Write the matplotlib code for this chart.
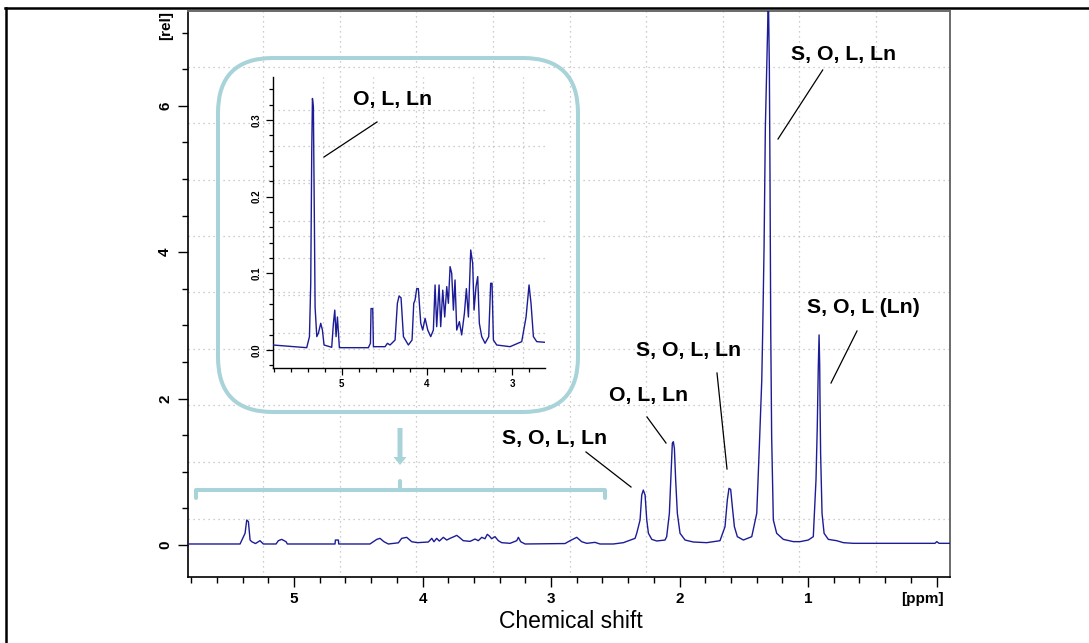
import matplotlib
matplotlib.use('Agg')
import matplotlib.pyplot as plt
from matplotlib.patches import FancyBboxPatch, FancyArrow
from matplotlib.lines import Line2D
from matplotlib.transforms import IdentityTransform
from matplotlib.ticker import MultipleLocator, FixedLocator

plt.rcParams['font.family'] = ['Liberation Sans', 'DejaVu Sans']

# ---------------- data ----------------
main_ppm = [5.83, 5.42, 5.381, 5.368, 5.355, 5.342, 5.329, 5.30, 5.265, 5.239, 5.14, 5.122, 5.096,
            5.062, 5.052, 4.681, 4.678, 4.655, 4.652, 4.409, 4.356, 4.331, 4.300, 4.266, 4.188,
            4.162, 4.123, 4.084, 4.040, 3.955, 3.928, 3.911, 3.890, 3.869, 3.838, 3.812, 3.781,
            3.755, 3.734, 3.714, 3.683, 3.630, 3.591, 3.566, 3.539, 3.514, 3.496, 3.480, 3.462,
            3.436, 3.410, 3.384, 3.319, 3.267, 3.254, 3.236, 3.202, 2.891, 2.852, 2.800, 2.761,
            2.722, 2.658, 2.619, 2.515, 2.437, 2.346, 2.333, 2.307, 2.294, 2.282, 2.268, 2.255,
            2.242, 2.216, 2.177, 2.113, 2.100, 2.079, 2.066, 2.056, 2.048, 2.040, 2.030, 2.017,
            1.996, 1.957, 1.893, 1.788, 1.685, 1.646, 1.628, 1.615, 1.602, 1.589, 1.573, 1.550,
            1.503, 1.438, 1.399, 1.379, 1.360, 1.353, 1.342, 1.332, 1.321, 1.314, 1.309, 1.301,
            1.296, 1.290, 1.283, 1.270, 1.244, 1.192, 1.114, 1.062, 0.998, 0.959, 0.938, 0.928,
            0.920, 0.914, 0.909, 0.907, 0.902, 0.891, 0.875, 0.842, 0.777, 0.725, 0.647, 0.012,
            -0.002, -0.02, -0.101]
main_rel = [0.014, 0.014, 0.16, 0.342, 0.319, 0.068, 0.045, 0.02, 0.059, 0.014, 0.014, 0.059, 0.077,
            0.045, 0.014, 0.014, 0.068, 0.068, 0.014, 0.014, 0.077, 0.091, 0.045, 0.014, 0.03,
            0.091, 0.105, 0.045, 0.032, 0.041, 0.091, 0.045, 0.091, 0.054, 0.105, 0.068, 0.095,
            0.114, 0.132, 0.105, 0.059, 0.050, 0.082, 0.059, 0.105, 0.086, 0.146, 0.123, 0.086,
            0.114, 0.059, 0.032, 0.023, 0.059, 0.105, 0.045, 0.014, 0.020, 0.059, 0.105, 0.045,
            0.023, 0.036, 0.014, 0.014, 0.032, 0.091, 0.16, 0.342, 0.683, 0.751, 0.683, 0.342,
            0.16, 0.077, 0.055, 0.068, 0.114, 0.433, 0.98, 1.389, 1.411, 1.32, 0.888, 0.433,
            0.16, 0.068, 0.041, 0.032, 0.059, 0.25, 0.615, 0.774, 0.76, 0.524, 0.25, 0.114,
            0.068, 0.114, 0.433, 1.34, 2.25, 2.89, 4.08, 5.71, 6.53, 7.08, 7.6, 6.53,
            5.08, 2.89, 1.48, 0.342, 0.16, 0.077, 0.046, 0.046, 0.068, 0.114, 0.888, 1.617,
            2.44, 2.87, 2.44, 2.03, 1.25, 0.433, 0.16, 0.077, 0.059, 0.032, 0.023, 0.023,
            0.046, 0.023, 0.023]

inset_ppm = [5.809, 5.411, 5.379, 5.364, 5.352, 5.344, 5.333, 5.321, 5.313, 5.293, 5.274, 5.247,
             5.227, 5.208, 5.118, 5.098, 5.082, 5.067, 5.051, 5.028, 4.688, 4.664, 4.657, 4.637,
             4.629, 4.492, 4.465, 4.434, 4.375, 4.348, 4.328, 4.305, 4.277, 4.219, 4.176, 4.156,
             4.141, 4.121, 4.102, 4.074, 4.051, 4.023, 3.992, 3.957, 3.926, 3.906, 3.887, 3.859,
             3.840, 3.816, 3.793, 3.769, 3.750, 3.730, 3.711, 3.691, 3.672, 3.652, 3.621, 3.594,
             3.562, 3.539, 3.515, 3.488, 3.465, 3.449, 3.426, 3.406, 3.387, 3.359, 3.320, 3.277,
             3.254, 3.238, 3.222, 3.183, 3.027, 2.890, 2.839, 2.804, 2.781, 2.753, 2.714, 2.617]
inset_int = [0.0065, 0.003, 0.0174, 0.087, 0.261, 0.328, 0.317, 0.165, 0.056, 0.0174, 0.022, 0.0348,
             0.026, 0.0065, 0.0035, 0.0348, 0.052, 0.0174, 0.043, 0.003, 0.003, 0.0087, 0.054, 0.054,
             0.0043, 0.0043, 0.0087, 0.0065, 0.013, 0.0609, 0.0704, 0.068, 0.0174, 0.0065, 0.013, 0.0609,
             0.065, 0.080, 0.080, 0.035, 0.026, 0.0413, 0.026, 0.0174, 0.026, 0.0848, 0.0304, 0.0848,
             0.0304, 0.078, 0.043, 0.0826, 0.0609, 0.1087, 0.100, 0.052, 0.0913, 0.026, 0.037, 0.0196,
             0.0478, 0.080, 0.043, 0.1304, 0.113, 0.052, 0.0826, 0.0957, 0.0348, 0.0174, 0.0087, 0.0174,
             0.087, 0.087, 0.013, 0.0065, 0.0043, 0.0109, 0.043, 0.0848, 0.0609, 0.0174, 0.0109, 0.010]

main_xticks = [5, 4, 3, 2, 1, 0]
main_xticklabels = ['5', '4', '3', '2', '1', '']
main_yticks = [0, 2, 4, 6]
main_yticklabels = ['0', '2', '4', '6']
inset_xticks = [5, 4, 3]
inset_xticklabels = ['5', '4', '3']
inset_yticks = [0.0, 0.1, 0.2, 0.3]
inset_yticklabels = ['0.0', '0.1', '0.2', '0.3']

peak_labels_main = ['S, O, L, Ln', 'S, O, L (Ln)', 'S, O, L, Ln', 'O, L, Ln', 'S, O, L, Ln']
peak_label_inset = 'O, L, Ln'

# ---------------- style ----------------
W, H = 1089, 643
LINE = '#1c1c96'
TEAL = '#a8d4d9'
GRID = '#bdbdbd'

def fx(x):
    return x / W

def fy(y):
    return 1 - y / H

fig = plt.figure(figsize=(W / 100, H / 100), dpi=100)
fig.patch.set_facecolor('white')

# main axes
ax = fig.add_axes([fx(187.5), fy(577), (949.5 - 187.5) / W, (577 - 11) / H])
ax.set_xlim(5.829, -0.101)
ax.set_ylim(-0.437, 7.295)
ax.plot(main_ppm, main_rel, color=LINE, lw=1.0, zorder=3, clip_on=True)

main_vgrid = [5.241, 4.645, 4.047, 3.451, 2.856, 2.260, 1.665, 1.069, 0.473]
main_hgrid = [6.53, 5.77, 4.99, 4.22, 3.45, 2.68, 1.91, 1.13, 0.355]
for g in main_vgrid:
    ax.axvline(g, color=GRID, lw=0.9, ls=(0, (1, 3)), zorder=0)
for g in main_hgrid:
    ax.axhline(g, color=GRID, lw=0.9, ls=(0, (1, 3)), zorder=0)

ax.xaxis.set_major_locator(FixedLocator(main_xticks))
ax.set_xticklabels(main_xticklabels)
ax.xaxis.set_minor_locator(MultipleLocator(0.2))
ax.yaxis.set_major_locator(FixedLocator(main_yticks))
ax.set_yticklabels(main_yticklabels)
ax.yaxis.set_minor_locator(MultipleLocator(0.5))
ax.tick_params(which='major', direction='out', length=7, width=1.0, labelsize=11, pad=4)
ax.tick_params(which='minor', direction='out', length=4, width=1.0)
ax.tick_params(axis='y', labelrotation=90)
for lab in ax.get_xticklabels() + ax.get_yticklabels():
    lab.set_fontweight('bold')
for lab in ax.get_yticklabels():
    lab.set_verticalalignment('center')
for s in ['left', 'bottom']:
    ax.spines[s].set_color('black')
    ax.spines[s].set_linewidth(1.2)
for s in ['top', 'right']:
    ax.spines[s].set_color('#6a6a6a')
    ax.spines[s].set_linewidth(1.4)

# rounded inset frame
box = FancyBboxPatch((218, H - 412), 578 - 218, 412 - 58,
                     boxstyle='round,pad=0,rounding_size=55',
                     transform=IdentityTransform(), fill=False,
                     edgecolor=TEAL, lw=2.9, zorder=5)
fig.patches.append(box)

# inset axes
ai = fig.add_axes([fx(272.7), fy(368), (545 - 272.7) / W, (368 - 77) / H])
ai.patch.set_alpha(0)
ai.set_xlim(5.81, 2.617)
ai.set_ylim(-0.0235, 0.356)
ai.plot(inset_ppm, inset_int, color=LINE, lw=1.0, zorder=3)
inset_vgrid = [5.219, 4.633, 4.047, 3.461, 2.875]
inset_hgrid = [0.313, 0.266, 0.218, 0.168, 0.120, 0.072, 0.022]
for g in inset_vgrid:
    ai.axvline(g, color=GRID, lw=0.9, ls=(0, (1, 3)), zorder=0)
for g in inset_hgrid:
    ai.axhline(g, color=GRID, lw=0.9, ls=(0, (1, 3)), zorder=0)
for s in ['top', 'right']:
    ai.spines[s].set_visible(False)
for s in ['left', 'bottom']:
    ai.spines[s].set_linewidth(1.0)
ai.xaxis.set_major_locator(FixedLocator(inset_xticks))
ai.set_xticklabels(inset_xticklabels)
ai.xaxis.set_minor_locator(MultipleLocator(0.2))
ai.yaxis.set_major_locator(FixedLocator(inset_yticks))
ai.set_yticklabels(inset_yticklabels)
ai.yaxis.set_minor_locator(MultipleLocator(0.02))
ai.tick_params(which='major', direction='out', length=4.8, width=0.9, labelsize=7, pad=3)
ai.tick_params(which='minor', direction='out', length=3.1, width=0.9)
ai.tick_params(axis='y', labelrotation=90)
for lab in ai.get_xticklabels() + ai.get_yticklabels():
    lab.set_fontweight('bold')
for lab in ai.get_yticklabels():
    lab.set_verticalalignment('center')

# bracket and arrow
bx = [196, 196, 605, 605]
by = [498, 490, 490, 498]
fig.add_artist(Line2D([fx(v) for v in bx], [fy(v) for v in by], transform=fig.transFigure,
                      color=TEAL, lw=2.9, solid_joinstyle='round', solid_capstyle='round'))
fig.add_artist(Line2D([fx(400), fx(400)], [fy(490), fy(481)], transform=fig.transFigure,
                      color=TEAL, lw=2.9, solid_capstyle='round'))
arr = FancyArrow(400, H - 428, 0, -(465 - 428), width=5, head_width=13, head_length=8,
                 length_includes_head=True, transform=IdentityTransform(),
                 color=TEAL, lw=0)
fig.patches.append(arr)

# annotations
ann_pos = [(791, 60), (807, 313), (636, 356), (609, 401), (502, 444)]
ann_lines = [((822.7, 70), (778, 139)), ((857, 331), (831, 383)), ((717, 373), (727, 469)),
             ((647, 417), (666, 443)), ((586, 452), (631, 487))]
for txt, (tx, ty), ((x0, y0), (x1, y1)) in zip(peak_labels_main, ann_pos, ann_lines):
    fig.text(fx(tx), fy(ty), txt, fontsize=15.3, fontweight='bold', ha='left', va='baseline')
    fig.add_artist(Line2D([fx(x0), fx(x1)], [fy(y0), fy(y1)], transform=fig.transFigure,
                          color='black', lw=0.9))
fig.text(fx(353), fy(105), peak_label_inset, fontsize=15.3, fontweight='bold', ha='left', va='baseline')
fig.add_artist(Line2D([fx(377), fx(324)], [fy(122), fy(157)], transform=fig.transFigure,
                      color='black', lw=0.9))

# axis unit labels
fig.text(fx(166), fy(25), '[rel]', fontsize=11, fontweight='bold', rotation=90, ha='center', va='center')
fig.text(fx(922.5), fy(599), '[ppm]', fontsize=11, fontweight='bold', ha='center', va='center')
fig.text(fx(571), fy(622), 'Chemical shift', fontsize=16.5, ha='center', va='center')

# outer frame
fig.add_artist(Line2D([fx(5), fx(W)], [fy(8), fy(8)], transform=fig.transFigure, color='black', lw=1.8))
fig.add_artist(Line2D([fx(6), fx(6)], [fy(8), fy(H)], transform=fig.transFigure, color='black', lw=1.8))

fig.savefig('out.png', dpi=100)
